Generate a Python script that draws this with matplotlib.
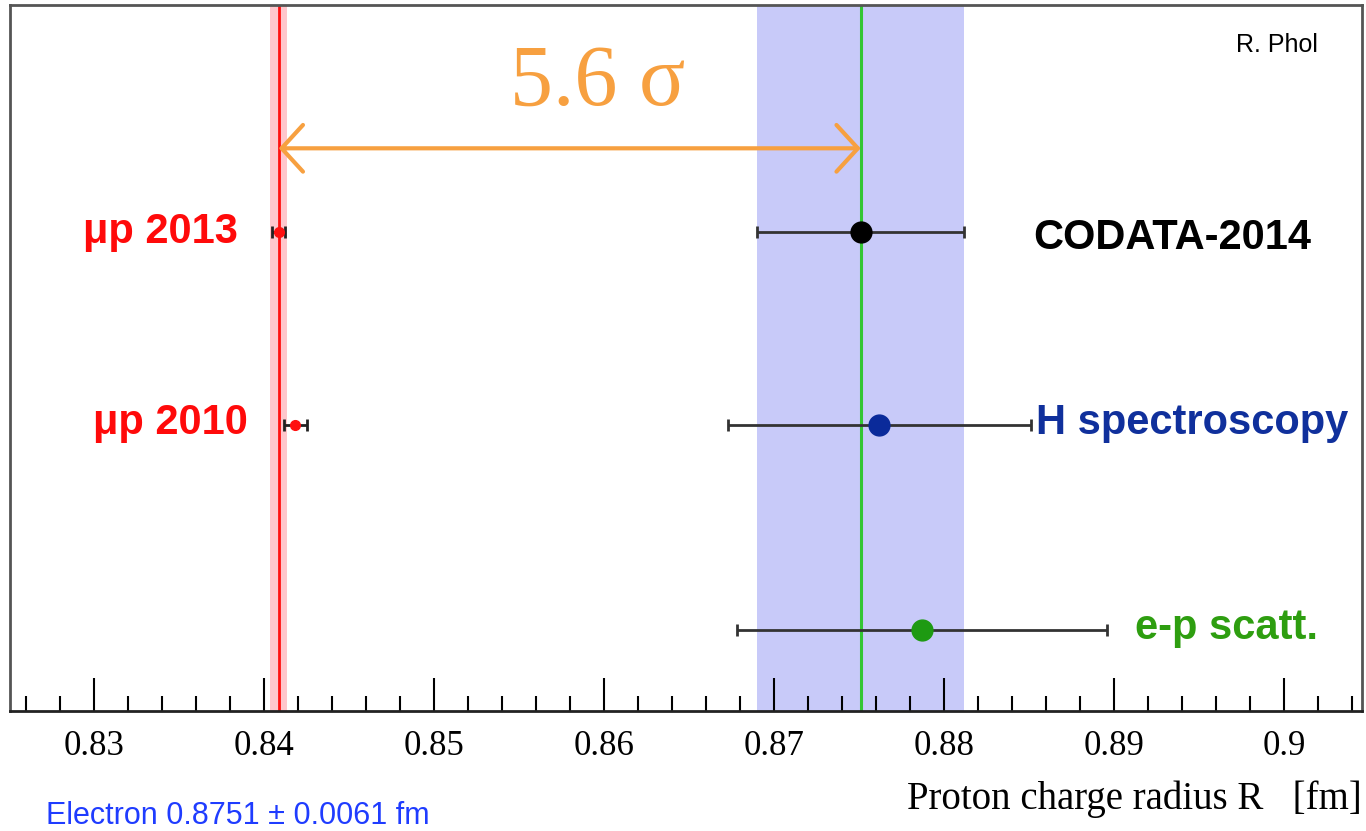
import numpy as np
import matplotlib
matplotlib.use("Agg")
import matplotlib.pyplot as plt
from matplotlib.ticker import MultipleLocator

# measurements (fm)
labels = ["CODATA-2014", "H spectroscopy", "e-p scatt."]
radius = [0.8751, 0.8762, 0.8787]
error = [0.0061, 0.0089, 0.0109]
point_colors = ["black", "#0a2a9a", "#1e9a12"]
label_colors = ["black", "#10309c", "#2e9e10"]

mu_labels = ["\u03bcp 2013", "\u03bcp 2010"]
mu_radius = [0.84087, 0.84184]
mu_error = [0.00039, 0.00067]

codata = 0.8751
codata_err = 0.0061
muon = 0.84087
muon_err = 0.00039
sigma_text = "5.6 \u03c3"

# row heights (axes units)
rows = [0.6785, 0.405, 0.115]
mu_rows = [0.6785, 0.405]

fig = plt.figure(figsize=(13.66, 8.31), dpi=100)
ax = fig.add_axes([0.0073, 0.1444, 0.9898, 0.8496])
ax.set_xlim(0.82506, 0.90459)
ax.set_ylim(0, 1)

# bands and reference lines
ax.axvspan(codata - codata_err, codata + codata_err, color="#c8caf9", zorder=0, lw=0)
ax.axvline(codata, color="#33c633", lw=2.2, zorder=1)
ax.axvspan(muon - muon_err - 0.0001, muon + muon_err + 0.0001, color="#ffc6cc", zorder=0, lw=0)
ax.axvline(muon, color="#ff1010", lw=2, zorder=1)

# e/H measurements
for r, e, y, pc in zip(radius, error, rows, point_colors):
    ax.errorbar(r, y, xerr=e, fmt="o", color=pc, ms=15, ecolor="#333333",
                elinewidth=2, capsize=4, capthick=2, zorder=3)

# muonic hydrogen
for r, e, y in zip(mu_radius, mu_error, mu_rows):
    ax.errorbar(r, y, xerr=e, fmt="o", color="#ff1010", ms=7, ecolor="#222222",
                elinewidth=2, capsize=4, capthick=2, zorder=3)

# text labels
lab_x = [0.88524, 0.88541, 0.9020]
lab_ha = ["left", "left", "right"]
lab_y = [0.670, 0.408, 0.118]
for t, x, y, c, ha in zip(labels, lab_x, lab_y, label_colors, lab_ha):
    ax.text(x, y, t, color=c, fontsize=30, fontweight="bold", ha=ha, va="center",
            family="Liberation Sans")

mu_x = [0.83847, 0.83906]
mu_y = [0.6785, 0.408]
for t, x, y in zip(mu_labels, mu_x, mu_y):
    ax.text(x, y, t, color="#ff0a0a", fontsize=30, fontweight="bold", ha="right", va="center",
            family="Liberation Sans")

# sigma arrow
ax.annotate("", xy=(muon, 0.797), xytext=(codata, 0.797),
            arrowprops=dict(arrowstyle="<->, head_length=0.55, head_width=0.6",
                            color="#f7a040", lw=3, mutation_scale=28,
                            shrinkA=0, shrinkB=0), zorder=4)
ax.text(0.85965, 0.888, sigma_text, color="#f7a040", fontsize=62, ha="center", va="center",
        family="Liberation Serif")

ax.text(0.9020, 0.943, "R. Phol", fontsize=18, ha="right", va="center", family="Liberation Sans")

# axes styling
ax.set_yticks([])
ax.xaxis.set_major_locator(MultipleLocator(0.01))
ax.xaxis.set_minor_locator(MultipleLocator(0.002))
ax.tick_params(axis="x", which="major", direction="in", length=24, width=1.5, pad=14,
               labelsize=25, top=False)
ax.tick_params(axis="x", which="minor", direction="in", length=11, width=1.5, top=False)
ax.set_xticklabels([f"{v:g}" for v in ax.get_xticks()], family="Liberation Serif")
for s in ["left", "top", "right"]:
    ax.spines[s].set_color("#555555")
    ax.spines[s].set_linewidth(2)
ax.spines["bottom"].set_color("#222222")
ax.spines["bottom"].set_linewidth(2)

fig.text(0.997, 0.038, "Proton charge radius R   [fm]", fontsize=28, ha="right", va="center",
         family="Liberation Serif")
fig.text(0.034, 0.009, "Electron 0.8751 \u00b1 0.0061 fm", fontsize=22, color="#1f3cff",
         ha="left", va="baseline", family="Liberation Sans")

fig.savefig("out.png", dpi=100)
